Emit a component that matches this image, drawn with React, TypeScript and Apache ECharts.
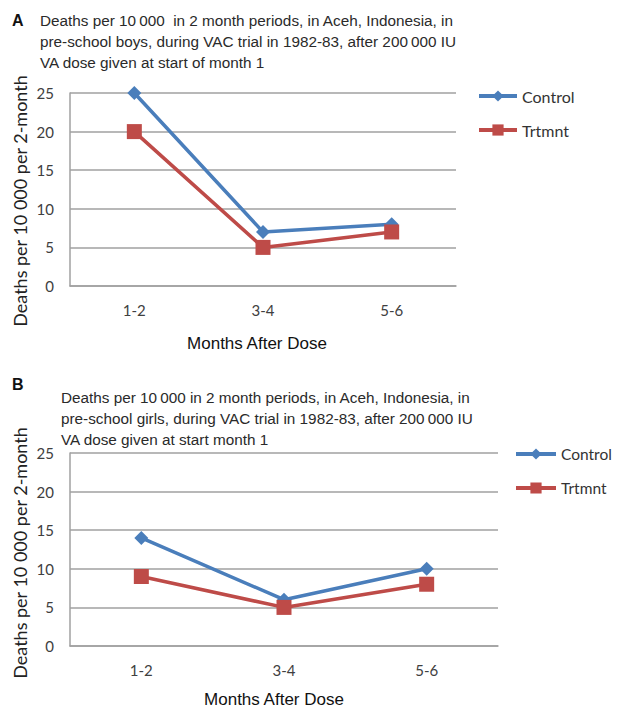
import React, { useEffect, useRef } from "react";
import * as echarts from "echarts";

const categories = ["1-2", "3-4", "5-6"];
const boysControl = [25, 7, 8];
const boysTrtmnt = [20, 5, 7];
const girlsControl = [14, 6, 10];
const girlsTrtmnt = [9, 5, 8];
const titleA = "Deaths per 10\u2009000  in 2 month periods, in Aceh, Indonesia, in\npre-school boys, during VAC trial in 1982-83, after 200\u2009000 IU\nVA dose given at start of month 1";
const titleB = "Deaths per 10\u2009000 in 2 month periods, in Aceh, Indonesia, in\npre-school girls, during VAC trial in 1982-83, after 200\u2009000 IU\nVA dose given at start month 1";
const yName = "Deaths per 10 000 per 2-month";
const xName = "Months After Dose";

const BLUE = "#4A7EBB";
const RED = "#BE4B48";
const GRID = "#A0A0A0";
const TICKFONT = "Lato";
const ARIAL = "Liberation Sans";

export default function App() {
  const ref = useRef<HTMLDivElement>(null);
  useEffect(() => {
    const chart = echarts.init(ref.current!, null, { renderer: "svg" });
    const xAxisBase = (gridIndex: number) => ({
      type: "category",
      gridIndex,
      data: categories,
      boundaryGap: true,
      axisLine: { show: true, lineStyle: { color: GRID, width: 1.5 } },
      axisTick: { show: false },
      axisLabel: { margin: 16, fontSize: 15, color: "#404040", fontFamily: TICKFONT },
    });
    const yAxisBase = (gridIndex: number) => ({
      type: "value",
      gridIndex,
      min: 0,
      max: 25,
      interval: 5,
      axisLine: { show: true, lineStyle: { color: GRID, width: 1.5 } },
      axisTick: { show: false },
      splitLine: { show: true, lineStyle: { color: GRID, width: 1.5 } },
      axisLabel: { margin: 16, fontSize: 15, color: "#404040", fontFamily: TICKFONT },
    });
    const ser = (name: string, data: number[], idx: number, color: string, symbol: string, size: number) => ({
      type: "line",
      name,
      data,
      xAxisIndex: idx,
      yAxisIndex: idx,
      color,
      symbol,
      symbolSize: size,
      lineStyle: { width: 3.5, color },
      itemStyle: { color },
    });
    const legendBase = (left: number, top: number, w: number, fs: number) => ({
      orient: "vertical",
      left,
      top,
      padding: 0,
      itemWidth: w,
      itemHeight: 14,
      itemGap: 18,
      lineStyle: { width: 4 },
      textStyle: { fontSize: fs, color: "#333", fontFamily: TICKFONT },
    });
    const txt = (x: number, y: number, text: string, size: number, family: string, extra: any = {}) => ({
      type: "text",
      x,
      y,
      ...extra.el,
      style: { text, fontSize: size, fontFamily: family, fill: "#222", ...extra.style },
    });
    chart.setOption({
      animation: false,
      backgroundColor: "#fff",
      grid: [
        { left: 70, top: 93, right: 161, bottom: 423, containLabel: false },
        { left: 70, top: 453, right: 119, bottom: 63, containLabel: false },
      ],
      xAxis: [xAxisBase(0), xAxisBase(1)],
      yAxis: [yAxisBase(0), yAxisBase(1)],
      legend: [
        { ...legendBase(477, 88, 38, 16), data: ["Control", "Trtmnt"] },
        { ...legendBase(514, 446, 40, 15.5), data: ["Control ", "Trtmnt "] },
      ],
      series: [
        ser("Control", boysControl, 0, BLUE, "diamond", 14),
        ser("Trtmnt", boysTrtmnt, 0, RED, "rect", 15),
        ser("Control ", girlsControl, 1, BLUE, "diamond", 14),
        ser("Trtmnt ", girlsTrtmnt, 1, RED, "rect", 15),
      ],
      graphic: [
        txt(12, 20, "A", 16, ARIAL, { style: { fontWeight: "bold", fill: "#111", verticalAlign: "middle" } }),
        txt(40, 10, titleA, 15.3, ARIAL, { style: { lineHeight: 21, fill: "#2a2a2a" } }),
        txt(12, 384, "B", 16, ARIAL, { style: { fontWeight: "bold", fill: "#111", verticalAlign: "middle" } }),
        txt(61, 387, titleB, 15.3, ARIAL, { style: { lineHeight: 21, fill: "#2a2a2a" } }),
        txt(20, 201, yName, 18, TICKFONT, { el: { rotation: Math.PI / 2 }, style: { align: "center", verticalAlign: "middle" } }),
        txt(20, 553, yName, 18, TICKFONT, { el: { rotation: Math.PI / 2 }, style: { align: "center", verticalAlign: "middle" } }),
        txt(257, 343, xName, 17, ARIAL, { style: { align: "center", verticalAlign: "middle", fill: "#111" } }),
        txt(274, 699, xName, 17, ARIAL, { style: { align: "center", verticalAlign: "middle", fill: "#111" } }),
      ],
    });
    return () => chart.dispose();
  }, []);
  return (
    <div
      ref={ref}
      style={{ position: "fixed", left: 0, top: 0, width: 617, height: 709, background: "#fff" }}
    />
  );
}
